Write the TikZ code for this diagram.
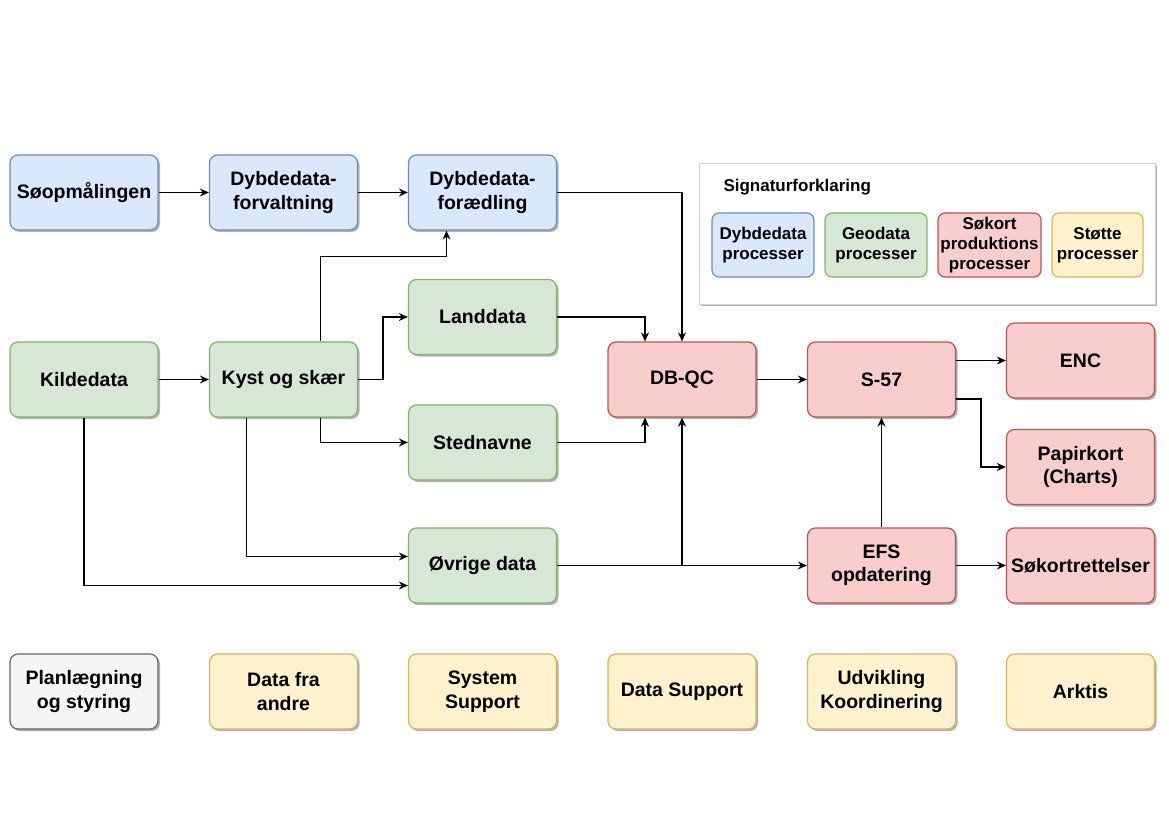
\documentclass[tikz,border=0pt]{standalone}
\usepackage{fontspec}
\setmainfont{Liberation Sans}
\usepackage{xcolor}
\usetikzlibrary{arrows.meta, positioning, calc, shadows}

\definecolor{dybdefill}{HTML}{DAE8FC}
\definecolor{dybdeline}{HTML}{6C8EBF}
\definecolor{geofill}{HTML}{D5E8D4}
\definecolor{geoline}{HTML}{82B366}
\definecolor{sokortfill}{HTML}{F8CECC}
\definecolor{sokortline}{HTML}{B85450}
\definecolor{stottefill}{HTML}{FFF2CC}
\definecolor{stotteline}{HTML}{D6B656}
\definecolor{planfill}{HTML}{F5F5F5}
\definecolor{planline}{HTML}{666666}

\begin{document}
\begin{tikzpicture}[x=1pt, y=-1pt,
  skygge/.style={drop shadow={shadow xshift=2pt, shadow yshift=-2pt, opacity=0.3, fill=black}},
  proc/.style={skygge, rounded corners=8pt, line width=1.2pt, align=center,
    minimum width=148pt, minimum height=75pt, inner sep=2pt,
    font=\bfseries\fontsize{19.5}{23.5}\selectfont},
  dybde/.style={proc, fill=dybdefill, draw=dybdeline},
  geo/.style={proc, fill=geofill, draw=geoline},
  sokort/.style={proc, fill=sokortfill, draw=sokortline},
  stotte/.style={proc, fill=stottefill, draw=stotteline},
  plan/.style={proc, fill=planfill, draw=planline},
  legproc/.style={rounded corners=7pt, line width=1.2pt, align=center,
    minimum height=64pt, inner sep=0pt,
    font=\bfseries\fontsize{17}{20}\selectfont},
  pil/.style={line width=1.3pt, -{Stealth[length=9pt, width=8pt]}}
]
  % page size of the reference (y runs downwards)
  \useasboundingbox (0,0) rectangle (1169,826);

  % Dybdedata row
  \node[dybde] (soop)    at (84,192.5)    {Søopmålingen};
  \node[dybde] (forvalt) at (283.5,192.5) {Dybdedata-\\forvaltning};
  \node[dybde] (foraedl) at (482.5,192.5) {Dybdedata-\\forædling};

  % Geodata
  \node[geo] (land)   at (482.5,317)   {Landdata};
  \node[geo] (kilde)  at (84,379.5)    {Kildedata};
  \node[geo] (kyst)   at (283.5,379.5) {Kyst og skær};
  \node[geo] (sted)   at (482.5,442.5) {Stednavne};
  \node[geo] (ovrige) at (482.5,565.5) {Øvrige data};

  % Søkort production
  \node[sokort] (dbqc)  at (682,379.5)    {DB-QC};
  \node[sokort] (s57)   at (881.5,379.5)  {S-57};
  \node[sokort] (enc)   at (1080.5,360.5) {ENC};
  \node[sokort] (papir) at (1080.5,467)   {Papirkort\\(Charts)};
  \node[sokort] (efs)   at (881.5,565.5)  {EFS\\opdatering};
  \node[sokort] (rett)  at (1080.5,565.5) {Søkortrettelser};

  % Support row
  \node[plan]   (planl)   at (84,691.5)     {Planlægning\\og styring};
  \node[stotte] (andre)   at (283.5,691.5)  {Data fra\\andre};
  \node[stotte] (syssup)  at (482.5,691.5)  {System\\Support};
  \node[stotte] (datasup) at (682,691.5)    {Data Support};
  \node[stotte] (udvik)   at (881.5,691.5)  {Udvikling\\Koordinering};
  \node[stotte] (arktis)  at (1080.5,691.5) {Arktis};

  % Legend
  \node[skygge, draw=black!18, fill=white, line width=0.9pt, minimum width=456pt,
    minimum height=141pt, inner sep=0pt] (legbox) at (927,233.5) {};
  \node[anchor=west, font=\bfseries\fontsize{17}{20}\selectfont]
    (legtitle) at (720,187) {Signaturforklaring};
  \node[legproc, fill=dybdefill, draw=dybdeline, minimum width=102pt]
    (legdybde) at (763,245) {Dybdedata\\processer};
  \node[legproc, fill=geofill, draw=geoline, minimum width=102pt]
    (leggeo) at (876,245) {Geodata\\processer};
  \node[legproc, fill=sokortfill, draw=sokortline, minimum width=103pt]
    (legsokort) at (989.5,245) {Søkort\\produktions\\processer};
  \node[legproc, fill=stottefill, draw=stotteline, minimum width=91pt]
    (legstotte) at (1097.5,245) {Støtte\\processer};

  % Dybdedata flow
  \draw[pil] (soop) -- (forvalt);
  \draw[pil] (forvalt) -- (foraedl);
  \draw[pil] (foraedl.east) -| (dbqc.north);

  % Geodata flow (negative y offsets point up)
  \draw[pil] (kilde) -- (kyst);
  \draw[pil] (kyst.east) -- ++(25,0) |- (land.west);
  \draw[pil] ([xshift=37pt]kyst.north) -- ++(0,-85) -| ([xshift=-36pt]foraedl.south);
  \draw[pil] ([xshift=37pt]kyst.south) |- (sted.west);
  \draw[pil] ([xshift=-37pt]kyst.south) |- ([yshift=9pt]ovrige.west);
  \draw[pil] (kilde.south) |- ([yshift=-20pt]ovrige.west);
  \draw[pil] (land.east) -| ([xshift=-37pt]dbqc.north);
  \draw[pil] (sted.east) -| ([xshift=-37pt]dbqc.south);
  \draw[pil] (ovrige.east) -- (efs.west);
  \draw[pil] (dbqc.south |- ovrige.east) -- (dbqc.south);

  % Søkort flow
  \draw[pil] (dbqc) -- (s57);
  \draw[pil] (enc.west -| s57.east) -- (enc.west);
  \draw[pil] ([yshift=-19.5pt]s57.east) -- ++(25,0) |- (papir.west);
  \draw[pil] (efs) -- (s57);
  \draw[pil] (efs) -- (rett);
\end{tikzpicture}
\end{document}
